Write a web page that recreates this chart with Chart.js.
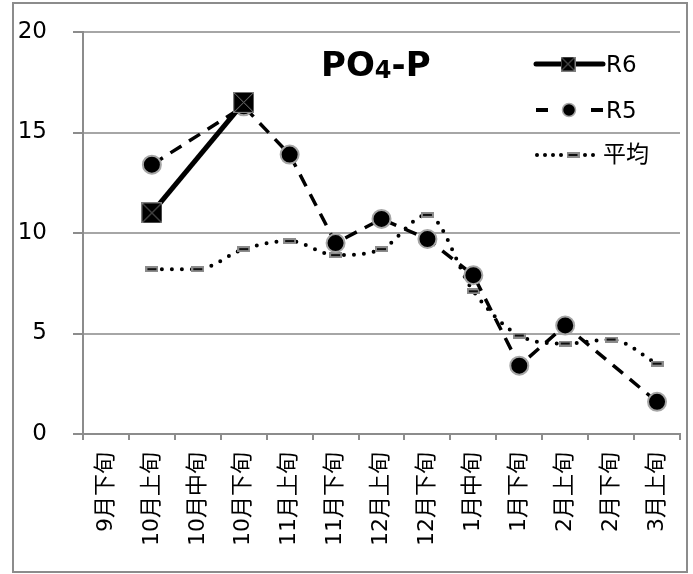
<!DOCTYPE html>
<html>
<head>
<meta charset="utf-8">
<script src="https://cdn.jsdelivr.net/npm/chart.js@4.4.1/dist/chart.umd.min.js"></script>
<style>
body { margin: 0; background: #fff; }
#wrap { width: 693px; height: 574px; position: relative; }
</style>
</head>
<body>
<div id="wrap"><canvas id="chart"></canvas></div>
<script>
// data
const labels = ['9月下旬', '10月上旬', '10月中旬', '10月下旬', '11月上旬', '11月下旬', '12月上旬',
                '12月下旬', '1月中旬', '1月下旬', '2月上旬', '2月下旬', '3月上旬'];
const r6Values  = [null, 11.0, null, 16.5, null, null, null, null, null, null, null, null, null];
const r5Values  = [null, 13.4, null, 16.3, 13.9, 9.5, 10.7, 9.7, 7.9, 3.4, 5.4, null, 1.6];
const avgValues = [null, 8.2, 8.2, 9.2, 9.6, 8.9, 9.2, 10.9, 7.1, 4.9, 4.5, 4.7, 3.5];
const yTicks = [0, 5, 10, 15, 20];

const FONT = '"DejaVu Sans", "Noto Sans CJK JP", sans-serif';
const GRAY = '#a6a6a6';

// marker images
function squareX(size) {
    const c = document.createElement('canvas');
    c.width = size; c.height = size;
    const g = c.getContext('2d');
    g.fillStyle = '#000';
    g.fillRect(0, 0, size, size);
    g.strokeStyle = '#7f7f7f';
    g.lineWidth = 1;
    g.strokeRect(0.5, 0.5, size - 1, size - 1);
    g.beginPath();
    g.moveTo(1, 1); g.lineTo(size - 1, size - 1);
    g.moveTo(size - 1, 1); g.lineTo(1, size - 1);
    g.stroke();
    return c;
}
function dashMark(w, h) {
    const c = document.createElement('canvas');
    c.width = w; c.height = h;
    const g = c.getContext('2d');
    g.fillStyle = '#8c8c8c';
    g.fillRect(0, 0, w, h);
    g.fillStyle = '#111';
    g.fillRect(2, Math.floor(h / 2) - 1, w - 4, 2);
    return c;
}
const bigSquare = squareX(21);
const smallSquare = squareX(15);
const avgMark = dashMark(13, 6);

// frame, title and legend
const decor = {
    id: 'decor',
    beforeDraw(chart) {
        const ctx = chart.ctx;
        ctx.save();
        ctx.fillStyle = '#fff';
        ctx.fillRect(0, 0, chart.width, chart.height);
        ctx.strokeStyle = '#8c8c8c';
        ctx.lineWidth = 2;
        ctx.strokeRect(13, 3, 674, 569);
        ctx.restore();
    },
    afterDraw(chart) {
        const ctx = chart.ctx;
        ctx.save();
        // title PO4-P
        ctx.fillStyle = '#000';
        ctx.textBaseline = 'alphabetic';
        ctx.font = 'bold 34px ' + FONT;
        let x = 321;
        ctx.fillText('PO', x, 76);
        x += ctx.measureText('PO').width;
        ctx.font = 'bold 24px ' + FONT;
        ctx.fillText('4', x, 78);
        x += ctx.measureText('4').width;
        ctx.font = 'bold 34px ' + FONT;
        ctx.fillText('-P', x, 76);

        // legend
        ctx.font = '23px ' + FONT;
        ctx.textBaseline = 'middle';
        // R6
        ctx.strokeStyle = '#000';
        ctx.lineCap = 'round';
        ctx.lineWidth = 5;
        ctx.beginPath(); ctx.moveTo(536, 64); ctx.lineTo(603, 64); ctx.stroke();
        ctx.drawImage(smallSquare, 568 - 7.5, 64 - 7.5);
        ctx.fillText('R6', 606, 66);
        // R5
        ctx.lineCap = 'butt';
        ctx.lineWidth = 4;
        ctx.beginPath();
        ctx.moveTo(536, 110); ctx.lineTo(548, 110);
        ctx.moveTo(591, 110); ctx.lineTo(603, 110);
        ctx.stroke();
        ctx.beginPath(); ctx.arc(569, 110, 6.5, 0, Math.PI * 2);
        ctx.fillStyle = '#000'; ctx.fill();
        ctx.strokeStyle = GRAY; ctx.lineWidth = 1.5; ctx.stroke();
        ctx.fillStyle = '#000';
        ctx.fillText('R5', 606, 112);
        // average
        ctx.fillStyle = '#000';
        for (const dx of [537, 545, 553, 561, 585, 593]) {
            ctx.beginPath(); ctx.arc(dx, 155, 2, 0, Math.PI * 2); ctx.fill();
        }
        ctx.drawImage(avgMark, 573 - 6.5, 155 - 3);
        ctx.fillText('平均', 603, 156);
        ctx.restore();
    }
};

new Chart(document.getElementById('chart'), {
    type: 'line',
    data: {
        labels: labels,
        datasets: [{
            label: 'R6',
            data: r6Values,
            borderColor: '#000',
            borderWidth: 5,
            pointStyle: bigSquare,
            spanGaps: true,
            tension: 0
        }, {
            label: 'R5',
            data: r5Values,
            borderColor: '#000',
            borderWidth: 3.5,
            borderDash: [13, 9],
            pointStyle: 'circle',
            pointRadius: 9,
            pointBackgroundColor: '#000',
            pointBorderColor: GRAY,
            pointBorderWidth: 2,
            spanGaps: true,
            tension: 0
        }, {
            label: '平均',
            data: avgValues,
            borderColor: '#000',
            borderWidth: 4,
            borderDash: [0, 10],
            borderCapStyle: 'round',
            pointStyle: avgMark,
            spanGaps: true,
            cubicInterpolationMode: 'monotone'
        }]
    },
    options: {
        responsive: true,
        maintainAspectRatio: false,
        animation: false,
        layout: { autoPadding: false, padding: { left: 13, top: 32, right: 13, bottom: 4 } },
        plugins: {
            legend: { display: false },
            tooltip: { enabled: false }
        },
        scales: {
            x: {
                offset: true,
                grid: {
                    offset: true,
                    drawOnChartArea: false,
                    drawTicks: true,
                    tickLength: 6,
                    color: '#8c8c8c',
                    lineWidth: 2
                },
                border: { color: '#8c8c8c', width: 2 },
                ticks: {
                    autoSkip: false,
                    minRotation: 90,
                    maxRotation: 90,
                    padding: 12,
                    color: '#000',
                    font: { size: 22, family: FONT }
                },
                afterFit: function(scale) {
                    scale.height = 136;
                    scale.paddingLeft = 0;
                    scale.paddingRight = 0;
                }
            },
            y: {
                min: 0,
                max: 20,
                afterBuildTicks: function(scale) {
                    scale.ticks = yTicks.map(v => ({ value: v }));
                },
                grid: {
                    color: GRAY,
                    lineWidth: 2,
                    tickLength: 10,
                    tickColor: '#8c8c8c'
                },
                border: { color: '#8c8c8c', width: 2 },
                ticks: {
                    padding: 26,
                    color: '#000',
                    font: { size: 23, family: FONT }
                },
                afterFit: function(scale) {
                    scale.width = 70;
                    scale.paddingTop = 0;
                    scale.paddingBottom = 0;
                }
            }
        }
    },
    plugins: [decor]
});
</script>
</body>
</html>
